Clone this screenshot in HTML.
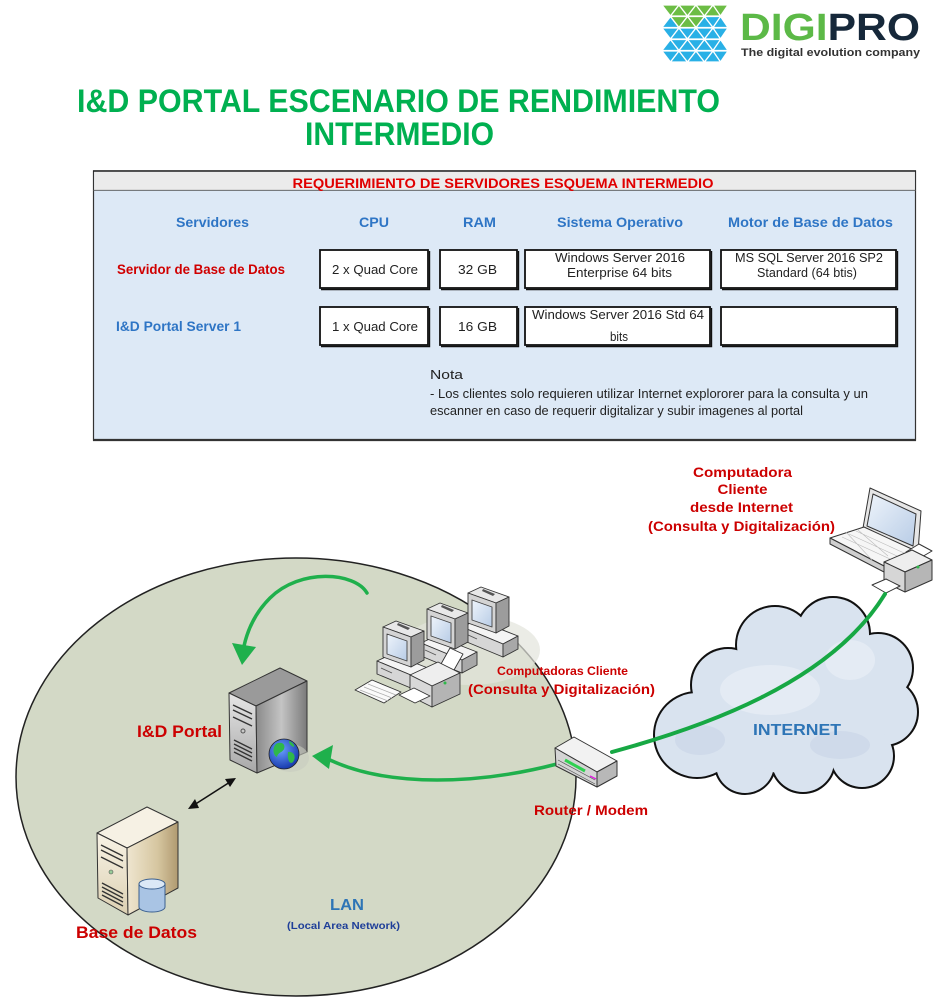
<!DOCTYPE html>
<html><head><meta charset="utf-8"><style>
html,body{margin:0;padding:0;background:#fff;}
svg{display:block;}
text{font-family:"Liberation Sans",Arial,sans-serif;}
</style></head><body>
<svg width="936" height="1000" viewBox="0 0 936 1000" xmlns="http://www.w3.org/2000/svg">
<defs>
<g id="r0">
<polygon points="662,5 679,5 670.5,16"/><polygon points="670.5,16 687.5,16 679,5"/><polygon points="679,5 696,5 687.5,16"/><polygon points="687.5,16 704.5,16 696,5"/><polygon points="696,5 713,5 704.5,16"/><polygon points="704.5,16 721.5,16 713,5"/><polygon points="713,5 728,5 720.5,16"/>
</g>
<g id="r1">
<polygon points="662,27.5 679,27.5 670.5,16.5"/><polygon points="670.5,16.5 687.5,16.5 679,27.5"/><polygon points="679,27.5 696,27.5 687.5,16.5"/><polygon points="687.5,16.5 704.5,16.5 696,27.5"/><polygon points="696,27.5 713,27.5 704.5,16.5"/><polygon points="704.5,16.5 721.5,16.5 713,27.5"/><polygon points="713,27.5 728,27.5 720.5,16.5"/>
</g>
<linearGradient id="gSide" x1="0" y1="0" x2="1" y2="0"><stop offset="0" stop-color="#8a8a8a"/><stop offset="0.5" stop-color="#c4c4c4"/><stop offset="1" stop-color="#7a7a7a"/></linearGradient>
<linearGradient id="gFront" x1="0" y1="0" x2="0" y2="1"><stop offset="0" stop-color="#e6e6e6"/><stop offset="1" stop-color="#a8a8a8"/></linearGradient>
<linearGradient id="bSide" x1="0" y1="0" x2="1" y2="0"><stop offset="0" stop-color="#efe6d0"/><stop offset="0.6" stop-color="#d6c6a0"/><stop offset="1" stop-color="#b09a70"/></linearGradient>
<linearGradient id="bFront" x1="0" y1="0" x2="0" y2="1"><stop offset="0" stop-color="#f8f3e6"/><stop offset="1" stop-color="#dcd0b2"/></linearGradient>
<radialGradient id="globe" cx="0.4" cy="0.35" r="0.7"><stop offset="0" stop-color="#6aa0ff"/><stop offset="1" stop-color="#1233a8"/></radialGradient>
<linearGradient id="scr" x1="0" y1="0" x2="1" y2="1"><stop offset="0" stop-color="#eef4fb"/><stop offset="1" stop-color="#b8cce6"/></linearGradient>
<g id="unit" stroke="#333" stroke-width="0.9" stroke-linejoin="round">
<polygon points="377,661 392,654 433,670 418,678" fill="#f4f4f4"/>
<polygon points="377,661 418,678 418,691 377,674" fill="#d6d6d6"/>
<polygon points="418,678 433,670 433,683 418,691" fill="#a8a8a8"/>
<line x1="381" y1="668" x2="392" y2="673" stroke="#555"/>
<polygon points="383,627 396,621 424,631 411,637" fill="#e8e8e8"/>
<polygon points="383,627 411,637 411,667 383,657" fill="#d4d4d4"/>
<polygon points="411,637 424,631 424,660 411,667" fill="#9c9c9c"/>
<polygon points="387,634 407,641 407,661 387,654" fill="url(#scr)" stroke="#444"/>
<polygon points="398,623 410,628 408,630 397,625" fill="#555" stroke="none"/>
</g>
</defs>

<!-- LOGO -->
<g stroke="#fff" stroke-width="1.3">
<use href="#r0" fill="#6cbd45"/>
<use href="#r1" fill="#29b0e6"/>
<g fill="#6cbd45"><polygon points="670.5,16.5 687.5,16.5 679,27.5"/><polygon points="687.5,16.5 704.5,16.5 696,27.5"/><polygon points="679,27.5 696,27.5 687.5,16.5"/></g>
<use href="#r0" transform="translate(0,23)" fill="#29b0e6"/>
<use href="#r1" transform="translate(0,23)" fill="#29b0e6"/>
<use href="#r0" transform="translate(0,46)" fill="#29b0e6"/>
</g>
<text x="740" y="40" font-size="38" font-weight="bold" textLength="180" lengthAdjust="spacingAndGlyphs"><tspan fill="#5cb947">DIGI</tspan><tspan fill="#16283a">PRO</tspan></text>
<text x="741" y="56" font-size="11" font-weight="bold" fill="#333" textLength="179" lengthAdjust="spacingAndGlyphs">The digital evolution company</text>

<!-- TITLE -->
<text x="398.5" y="112" font-size="32" font-weight="bold" fill="#00b050" text-anchor="middle" textLength="643" lengthAdjust="spacingAndGlyphs">I&amp;D PORTAL ESCENARIO DE RENDIMIENTO</text>
<text x="399.5" y="145" font-size="32" font-weight="bold" fill="#00b050" text-anchor="middle" textLength="189" lengthAdjust="spacingAndGlyphs">INTERMEDIO</text>

<!-- TABLE -->
<rect x="93.5" y="171" width="822" height="269" fill="#dde9f6" stroke="#333" stroke-width="1.2"/>
<line x1="93" y1="440" x2="916" y2="440" stroke="#333" stroke-width="2.2"/>
<rect x="94.2" y="171.6" width="820.6" height="18.4" fill="#ebebeb"/>
<line x1="93" y1="171" x2="916" y2="171" stroke="#222" stroke-width="1.6"/>
<line x1="93" y1="190.3" x2="916" y2="190.3" stroke="#555" stroke-width="0.8"/>
<text x="503" y="188" font-size="13.5" font-weight="bold" fill="#e00000" text-anchor="middle" textLength="421" lengthAdjust="spacingAndGlyphs">REQUERIMIENTO DE SERVIDORES ESQUEMA INTERMEDIO</text>

<g font-size="14" font-weight="bold" fill="#2e75c5">
<text x="176" y="227" textLength="73" lengthAdjust="spacingAndGlyphs">Servidores</text>
<text x="359" y="227" textLength="30" lengthAdjust="spacingAndGlyphs">CPU</text>
<text x="463" y="227" textLength="33" lengthAdjust="spacingAndGlyphs">RAM</text>
<text x="557" y="227" textLength="126" lengthAdjust="spacingAndGlyphs">Sistema Operativo</text>
<text x="728" y="227" textLength="165" lengthAdjust="spacingAndGlyphs">Motor de Base de Datos</text>
</g>
<text x="117" y="274" font-size="13.5" font-weight="bold" fill="#d00000" textLength="168" lengthAdjust="spacingAndGlyphs">Servidor de Base de Datos</text>
<text x="116" y="331" font-size="13.5" font-weight="bold" fill="#2e75c5" textLength="125" lengthAdjust="spacingAndGlyphs">I&amp;D Portal Server 1</text>

<g fill="#fff" stroke="#111" stroke-width="1.8">
<rect x="320" y="250" width="108" height="38"/>
<rect x="440" y="250" width="77" height="38"/>
<rect x="525" y="250" width="185" height="38"/>
<rect x="721" y="250" width="175" height="38"/>
<rect x="320" y="307" width="108" height="38"/>
<rect x="440" y="307" width="77" height="38"/>
<rect x="525" y="307" width="185" height="38"/>
<rect x="721" y="307" width="175" height="38"/>
</g>
<g stroke="#111" stroke-width="1.4" fill="none">
<path d="M321,289.5 H429.5 V251 M441,289.5 H518.5 V251 M526,289.5 H711.5 V251 M722,289.5 H897.5 V251"/>
<path d="M321,346.5 H429.5 V308 M441,346.5 H518.5 V308 M526,346.5 H711.5 V308 M722,346.5 H897.5 V308"/>
</g>
<g font-size="13" fill="#222">
<text x="332" y="274" textLength="86" lengthAdjust="spacingAndGlyphs">2 x Quad Core</text>
<text x="458" y="274" textLength="39" lengthAdjust="spacingAndGlyphs">32 GB</text>
<text x="332" y="331" textLength="86" lengthAdjust="spacingAndGlyphs">1 x Quad Core</text>
<text x="458" y="331" textLength="39" lengthAdjust="spacingAndGlyphs">16 GB</text>
<text x="555" y="262" textLength="130" lengthAdjust="spacingAndGlyphs">Windows Server 2016</text>
<text x="567" y="277" textLength="105" lengthAdjust="spacingAndGlyphs">Enterprise 64 bits</text>
<text x="735" y="262" textLength="148" lengthAdjust="spacingAndGlyphs">MS SQL Server 2016 SP2</text>
<text x="757" y="277" textLength="100" lengthAdjust="spacingAndGlyphs">Standard (64 btis)</text>
<text x="532" y="319" textLength="172" lengthAdjust="spacingAndGlyphs">Windows Server 2016  Std 64</text>
<text x="610" y="341" textLength="18" lengthAdjust="spacingAndGlyphs">bits</text>
</g>
<g font-size="12.5" fill="#222">
<text x="430" y="379" textLength="33" lengthAdjust="spacingAndGlyphs">Nota</text>
<text x="430" y="398" textLength="438" lengthAdjust="spacingAndGlyphs">- Los clientes solo requieren utilizar Internet explororer para la consulta y un</text>
<text x="430" y="415" textLength="373" lengthAdjust="spacingAndGlyphs">escanner en caso de requerir digitalizar y subir imagenes al portal</text>
</g>

<!-- LAN ELLIPSE -->
<ellipse cx="296" cy="777" rx="280" ry="219" fill="#d3d9c6" stroke="#222" stroke-width="1.5"/>

<!-- CLOUD -->
<g stroke="#111" stroke-width="4" fill="#111">
<circle cx="697" cy="735" r="42"/><circle cx="728" cy="685" r="36"/><circle cx="775" cy="645" r="38"/><circle cx="833" cy="634" r="36"/><circle cx="878" cy="668" r="34"/><circle cx="884" cy="712" r="33"/><circle cx="862" cy="756" r="31"/><circle cx="803" cy="761" r="31"/><circle cx="745" cy="764" r="29"/>
</g>
<g fill="#d9e3ef">
<circle cx="697" cy="735" r="42"/><circle cx="728" cy="685" r="36"/><circle cx="775" cy="645" r="38"/><circle cx="833" cy="634" r="36"/><circle cx="878" cy="668" r="34"/><circle cx="884" cy="712" r="33"/><circle cx="862" cy="756" r="31"/><circle cx="803" cy="761" r="31"/><circle cx="745" cy="764" r="29"/><circle cx="795" cy="712" r="64"/><circle cx="745" cy="720" r="45"/><circle cx="845" cy="705" r="45"/>
</g>
<g fill="#e4ebf4"><ellipse cx="770" cy="690" rx="50" ry="25"/><ellipse cx="850" cy="660" rx="25" ry="20"/></g>
<g fill="#cfdaea"><ellipse cx="700" cy="740" rx="25" ry="15"/><ellipse cx="840" cy="745" rx="30" ry="14"/></g>
<text x="753" y="735" font-size="16" font-weight="bold" fill="#2e75b6" textLength="88" lengthAdjust="spacingAndGlyphs">INTERNET</text>

<!-- Double arrow -->
<line x1="194" y1="805" x2="230" y2="782" stroke="#111" stroke-width="1.6"/>
<polygon points="188,809 195,799 199,808" fill="#111"/>
<polygon points="236,778 225,779 230,787" fill="#111"/>

<!-- PORTAL SERVER -->
<g stroke="#333" stroke-width="1" stroke-linejoin="round">
<polygon points="229,693 280,668 307,681 256,706" fill="#9a9a9a"/>
<polygon points="229,693 256,706 257,773 230,760" fill="url(#gFront)"/>
<polygon points="256,706 307,681 307,752 257,773" fill="url(#gSide)"/>
</g>
<g stroke="#333" stroke-width="1.4">
<line x1="233" y1="705" x2="252" y2="714"/><line x1="233" y1="710" x2="252" y2="719"/>
<line x1="233" y1="717" x2="252" y2="726"/>
<line x1="234" y1="740" x2="252" y2="749"/><line x1="234" y1="744" x2="252" y2="753"/><line x1="234" y1="748" x2="252" y2="757"/><line x1="234" y1="752" x2="252" y2="761"/>
</g>
<circle cx="243" cy="731" r="2" fill="none" stroke="#555"/>
<ellipse cx="290" cy="758" rx="19" ry="14" fill="#c8ccc0" opacity="0.6"/>
<circle cx="284" cy="754" r="15" fill="url(#globe)" stroke="#222" stroke-width="0.8"/>
<path d="M276,744 C281,741 286,744 284,749 C282,753 278,752 277,757 C273,755 272,748 276,744 Z M288,752 C293,751 297,756 293,762 C290,765 287,760 288,752 Z M289,741 C292,742 295,745 294,747 C291,746 289,744 289,741 Z" fill="#2fb84a"/>
<text x="137" y="737" font-size="17" font-weight="bold" fill="#cc0000" textLength="85" lengthAdjust="spacingAndGlyphs">I&amp;D Portal</text>

<!-- DB SERVER -->
<g stroke="#333" stroke-width="1" stroke-linejoin="round">
<polygon points="97,833 147,807 178,822 127,848" fill="#f6f1e4"/>
<polygon points="97,833 127,848 128,915 98,898" fill="url(#bFront)"/>
<polygon points="127,848 178,822 178,888 128,915" fill="url(#bSide)"/>
</g>
<g stroke="#333" stroke-width="1.4">
<line x1="101" y1="845" x2="123" y2="856"/><line x1="101" y1="850" x2="123" y2="861"/><line x1="101" y1="857" x2="123" y2="868"/>
<line x1="102" y1="883" x2="123" y2="894"/><line x1="102" y1="887" x2="123" y2="898"/><line x1="102" y1="891" x2="123" y2="902"/><line x1="102" y1="895" x2="123" y2="906"/>
</g>
<circle cx="111" cy="872" r="2" fill="#9c9" stroke="#555" stroke-width="0.6"/>
<path d="M139,884 V907 A13,5 0 0 0 165,907 V884 Z" fill="#a9c4e4" stroke="#3a5f8f" stroke-width="1"/>
<ellipse cx="152" cy="884" rx="13" ry="5" fill="#dbe8f6" stroke="#3a5f8f" stroke-width="1"/>
<text x="76" y="938" font-size="17" font-weight="bold" fill="#cc0000" textLength="121" lengthAdjust="spacingAndGlyphs">Base de Datos</text>

<text x="330" y="910" font-size="16" font-weight="bold" fill="#2e75b6" textLength="34" lengthAdjust="spacingAndGlyphs">LAN</text>
<text x="287" y="929" font-size="10" font-weight="bold" fill="#1f3f99" textLength="113" lengthAdjust="spacingAndGlyphs">(Local Area Network)</text>

<!-- CLIENT COMPUTERS -->
<ellipse cx="470" cy="650" rx="70" ry="35" fill="#e2e4dc" opacity="0.7"/>
<use href="#unit" transform="translate(85,-34)"/>
<use href="#unit" transform="translate(44,-18)"/>
<use href="#unit"/>
<g stroke="#333" stroke-width="0.9" stroke-linejoin="round">
<polygon points="355,690 372,680 401,692 384,703" fill="#fafafa"/>
<path d="M360,690 L388,701 M364,687 L392,698 M368,684 L396,695" stroke="#aaa" stroke-width="0.7" fill="none"/>
<polygon points="441,664 450,648 463,654 454,670" fill="#fff"/>
<polygon points="410,675 438,662 460,673 432,686" fill="#eee"/>
<polygon points="410,675 432,686 432,707 410,696" fill="#d8d8d8"/>
<polygon points="432,686 460,673 460,694 432,707" fill="#b4b4b4"/>
<polygon points="399,695 414,688 430,696 415,703" fill="#fff"/>
</g>
<circle cx="445" cy="683" r="1.5" fill="#2fb84a"/>
<text x="497" y="675" font-size="11.5" font-weight="bold" fill="#cc0000" textLength="131" lengthAdjust="spacingAndGlyphs">Computadoras Cliente</text>
<text x="468" y="694" font-size="13.5" font-weight="bold" fill="#cc0000" textLength="187" lengthAdjust="spacingAndGlyphs">(Consulta y Digitalización)</text>

<!-- GREEN CONNECTORS -->
<g fill="none" stroke="#1fb04c" stroke-width="3.5" stroke-linecap="round">
<path d="M367,593 C355,572 300,568 270,598 C256,612 248,628 244,646"/>
<path d="M557,764 C480,784 390,788 330,760"/>
</g>
<polygon points="242,665 232,643 256,647" fill="#1fb04c"/>
<polygon points="312,756 333,745 329,769" fill="#1fb04c"/>

<!-- ROUTER -->
<g stroke="#333" stroke-width="1" stroke-linejoin="round">
<polygon points="555,748 574,737 617,761 597,772" fill="#f2f2f2"/>
<polygon points="555,748 597,772 597,787 556,766" fill="#d4d4d4"/>
<polygon points="597,772 617,761 617,776 597,787" fill="#b8b8b8"/>
</g>
<path d="M565,760 L585,771" stroke="#2fd050" stroke-width="3"/>
<path d="M590,776 L596,779" stroke="#e020e0" stroke-width="1.5"/>
<path d="M558,760 L595,780 M558,764 L595,784" stroke="#555" stroke-width="0.7"/>
<text x="534" y="815" font-size="13.5" font-weight="bold" fill="#cc0000" textLength="114" lengthAdjust="spacingAndGlyphs">Router / Modem</text>

<!-- LAPTOP -->
<g stroke="#333" stroke-width="1" stroke-linejoin="round">
<polygon points="870,488 921,511 918,552 863,528" fill="#e6e6e6"/>
<polygon points="873,494 916,514 913,546 867,526" fill="url(#scr)"/>
<polygon points="830,538 864,527 916,551 884,566" fill="#f6f6f6"/>
<polygon points="830,538 884,566 884,572 830,544" fill="#cfcfcf"/>
<path d="M842,537 L890,559 M849,534 L897,556 M856,531 L904,553 M846,532 L872,560 M858,530 L888,556" stroke="#bbb" stroke-width="0.6" fill="none"/>
<polygon points="906,552 919,544 932,551 920,558" fill="#fff"/>
<polygon points="884,562 912,550 932,560 905,572" fill="#eee"/>
<polygon points="884,562 905,572 905,592 884,582" fill="#d6d6d6"/>
<polygon points="905,572 932,560 932,580 905,592" fill="#b6b6b6"/>
<polygon points="872,585 886,579 900,586 886,593" fill="#fff"/>
</g>
<circle cx="918" cy="567" r="1.5" fill="#2fb84a"/>

<g font-size="13.5" font-weight="bold" fill="#cc0000" text-anchor="middle">
<text x="742.5" y="477" textLength="99" lengthAdjust="spacingAndGlyphs">Computadora</text>
<text x="742.5" y="494" textLength="50" lengthAdjust="spacingAndGlyphs">Cliente</text>
<text x="741.5" y="512" textLength="103" lengthAdjust="spacingAndGlyphs">desde Internet</text>
<text x="741.5" y="531" textLength="187" lengthAdjust="spacingAndGlyphs">(Consulta y Digitalización)</text>
</g>

<!-- Internet link (drawn last) -->
<path d="M612,752 C700,728 830,684 885,594" fill="none" stroke="#17a844" stroke-width="4" stroke-linecap="round"/>
</svg>
</body></html>
